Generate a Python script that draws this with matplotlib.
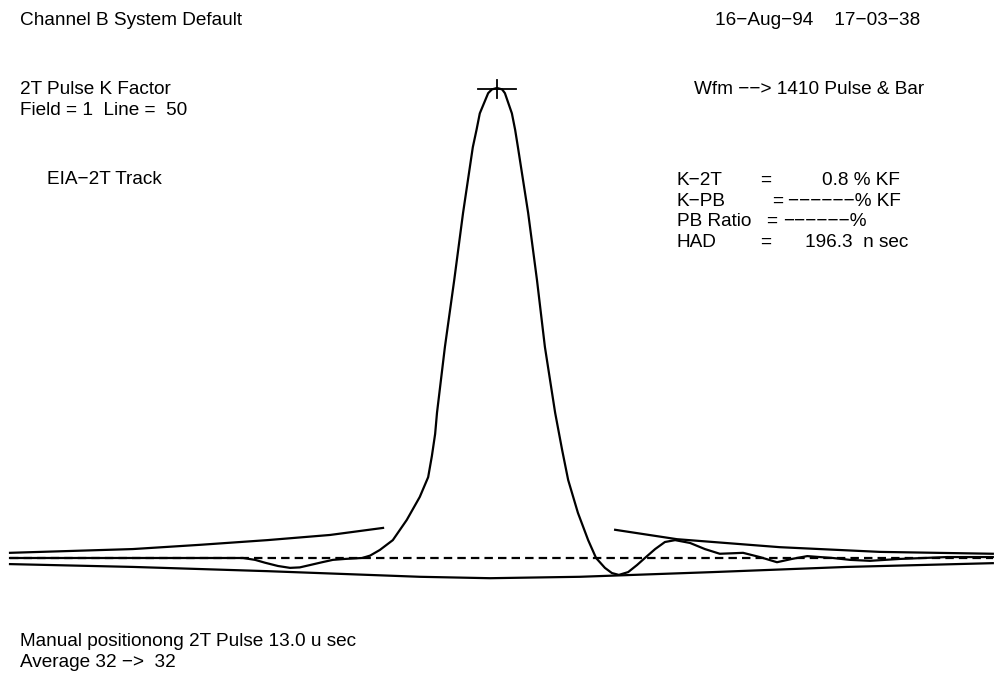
#!/usr/bin/env python3
# 2T pulse K-factor display: pulse trace, tolerance envelope and readouts

import numpy as np
import matplotlib
matplotlib.use('Agg')
import matplotlib.pyplot as plt

plt.rcParams['font.family'] = ['Liberation Sans', 'DejaVu Sans']

# pulse trace: time (ns, relative to peak) and amplitude (% of peak)
t_trace = [-1047, -546, -520, -499, -471, -445, -424, -402, -376, -353, -327,
           -290, -273, -252, -224, -194, -166, -148, -140, -133, -129, -112,
           -92, -73, -52, -44, -37, -19, -11, 0, 11, 17, 32, 39, 45, 67, 86,
           103, 125, 140, 153, 174, 196, 213, 232, 247, 262, 282, 301, 318,
           340, 361, 383, 415, 447, 479, 505, 529, 565, 602, 634, 667, 694,
           722, 759, 802, 866, 968, 1066]
a_trace = [0, 0, -0.4, -1.0, -1.7, -2.1, -2.0, -1.5, -0.9, -0.4, -0.2,
           0, 0.5, 1.7, 3.8, 8.1, 13.0, 17.2, 21.7, 26.4, 30.9, 44.9,
           59.1, 73.4, 87.4, 91.1, 94.6, 98.9, 99.7, 100, 99.7, 98.9, 94.6,
           91.1, 87.4, 73.4, 59.1, 44.9, 30.9, 23.0, 16.6, 9.6, 3.8, 0, -2.1,
           -3.2, -3.6, -3.0, -1.5, 0, 1.9, 3.4, 3.8, 3.2, 1.9, 0.9, 1.0, 1.1,
           0.2, -0.9, -0.2, 0.4, 0.2, 0, -0.4, -0.6, -0.2, 0.2, 0.2]

# K-factor tolerance envelope
t_env_ul = [-1047, -783, -639, -494, -359, -245]
a_env_ul = [1.1, 1.9, 2.8, 3.8, 4.9, 6.4]
t_env_ur = [254, 387, 608, 823, 1066]
a_env_ur = [6.0, 4.0, 2.3, 1.3, 0.9]
t_env_lo = [-1047, -783, -494, -166, -15, 178, 464, 752, 1066]
a_env_lo = [-1.3, -1.9, -2.8, -4.0, -4.3, -4.0, -3.0, -1.9, -1.1]

# reference level and peak cursor
t_ref = [-1047, 1066]
peak_t = 0
peak_a = 99.8

fig = plt.figure(figsize=(10, 6.77), dpi=100)
ax = fig.add_axes([0, 0, 1, 1])
ax.set_xlim(-1068.55, 1081.45)
ax.set_ylim(-25.32, 118.72)
ax.axis('off')

lw = 1.6
ax.plot(t_ref, [0, 0], color='black', lw=lw, dashes=(3.8, 2.3))
ax.plot(t_env_ul, a_env_ul, color='black', lw=lw)
ax.plot(t_env_ur, a_env_ur, color='black', lw=lw)
ax.plot(t_env_lo, a_env_lo, color='black', lw=lw)
ax.plot(t_trace, a_trace, color='black', lw=lw, solid_joinstyle='round')

# cross cursor at the pulse peak
ax.plot([peak_t - 40, peak_t + 40], [peak_a, peak_a], color='black', lw=1.3)
ax.plot([peak_t, peak_t], [peak_a - 1.9, peak_a + 1.9], color='black', lw=1.3)

fs = 13.7


def px_text(x, y, s, **kw):
    fig.text(x / 1000, 1 - y / 677, s, fontsize=fs, va='baseline', **kw)


px_text(20, 25, 'Channel B System Default')
px_text(715, 25, '16\u2212Aug\u221294    17\u221203\u221238')
px_text(20, 94, '2T Pulse K Factor')
px_text(20, 115, 'Field = 1  Line =  50')
px_text(694, 94, 'Wfm \u2212\u2212> 1410 Pulse & Bar')
px_text(47, 184, 'EIA\u22122T Track')

# readout block
rows = [('K\u22122T', 760, '0.8 % KF', 900, 'right'),
        ('K\u2212PB', 772, '\u2212\u2212\u2212\u2212\u2212\u2212% KF', 788, 'left'),
        ('PB Ratio', 766, '\u2212\u2212\u2212\u2212\u2212\u2212%', 783, 'left'),
        ('HAD', 760, '196.3  n sec', 805, 'left')]
for i, (lab, xeq, val, xval, ha) in enumerate(rows):
    yb = 185 + 20.5 * i
    px_text(677, yb, lab)
    px_text(xeq, yb, '=')
    px_text(xval, yb, val, ha=ha)

px_text(20, 646, 'Manual positionong 2T Pulse 13.0 u sec')
px_text(20, 667, 'Average 32 \u2212>  32')

fig.savefig('out.png', dpi=100)
